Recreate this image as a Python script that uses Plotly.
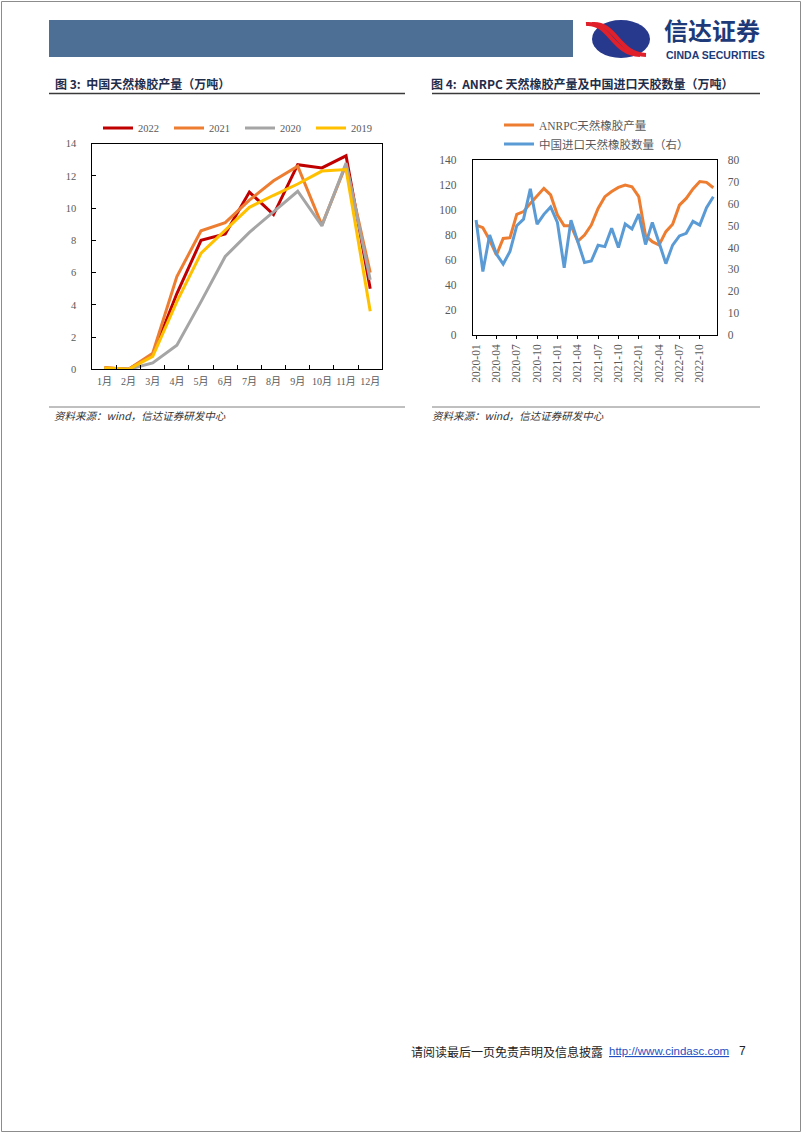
import plotly.graph_objects as go

W, H = 802, 1133

# ---------------- data: chart 3 ----------------
months = ["1月", "2月", "3月", "4月", "5月", "6月", "7月", "8月", "9月", "10月", "11月", "12月"]
y2022 = [0.1, 0.0, 0.9, 4.7, 8.0, 8.4, 11.0, 9.6, 12.7, 12.5, 13.25, 5.0]
y2021 = [0.05, 0.0, 1.0, 5.75, 8.6, 9.1, 10.5, 11.7, 12.6, 8.95, 12.7, 6.0]
y2020 = [0.05, 0.0, 0.4, 1.5, 4.2, 7.0, 8.5, 9.8, 11.05, 8.9, 12.8, 5.55]
y2019 = [0.1, 0.0, 0.8, 4.2, 7.2, 8.6, 10.05, 10.8, 11.5, 12.3, 12.4, 3.6]

# ---------------- data: chart 4 ----------------
dates = [f"{y}-{m:02d}" for y in (2020, 2021, 2022) for m in range(1, 13)]
anrpc = [88, 85.9, 76, 64, 77.3, 77.9, 96.6, 98.8, 105.4, 111.6, 117.5, 112.2,
         96.1, 87.5, 87.5, 75, 80, 88, 101.4, 110.8, 115, 118.2, 120.2, 118.8,
         110.8, 79.5, 74.7, 72, 82.7, 88.6, 104, 109.4, 117, 122.9, 122.3, 118]
imports = [52.6, 29.0, 45.7, 37.0, 32.4, 38.2, 50.0, 53.0, 66.9, 50.7, 55.2, 58.6,
           51.5, 30.7, 52.5, 42.7, 33.1, 33.8, 41.0, 40.4, 48.8, 40.0, 50.8, 48.5,
           55.3, 41.4, 51.5, 42.2, 32.6, 41.1, 45.3, 46.5, 52.0, 50.3, 58.3, 63.3]
tick_dates = dates[::3]

# ---------------- helpers ----------------
def px(x):
    return x / W

def py(y):
    return 1 - y / H

SERIF = "Liberation Serif, 'Times New Roman', 'Noto Sans CJK SC', serif"
CJK = "'Noto Sans CJK SC', sans-serif"
TICKC = "#595959"

fig = go.Figure()

# chart 3 traces
for name, vals, col in [("2022", y2022, "#C00000"), ("2021", y2021, "#ED7D31"),
                        ("2020", y2020, "#A5A5A5"), ("2019", y2019, "#FFC000")]:
    fig.add_trace(go.Scatter(x=months, y=vals, mode="lines", name=name,
                             line=dict(color=col, width=3),
                             xaxis="x", yaxis="y", legend="legend"))

# chart 4 traces
fig.add_trace(go.Scatter(x=dates, y=anrpc, mode="lines", name="ANRPC天然橡胶产量",
                         line=dict(color="#ED7D31", width=3),
                         xaxis="x2", yaxis="y2", legend="legend2"))
fig.add_trace(go.Scatter(x=dates, y=imports, mode="lines", name="中国进口天然橡胶数量（右）",
                         line=dict(color="#5B9BD5", width=3),
                         xaxis="x2", yaxis="y3", legend="legend2"))

base = dict(showgrid=False, zeroline=False, showline=True, linecolor="#000000",
            linewidth=1, mirror=True, automargin=False)

fig.update_layout(
    template="none",
    width=W, height=H, autosize=False,
    margin=dict(l=0, r=0, t=0, b=0, pad=0, autoexpand=False),
    paper_bgcolor="white", plot_bgcolor="white",
    xaxis=dict(domain=[px(92.3), px(382.3)], anchor="y", type="category",
               range=[-0.5, 11.5], tickson="boundaries", ticks="inside", ticklen=4,
               tickangle=0, tickcolor="#000", ticklabelstandoff=3,
               tickfont=dict(family=SERIF, size=10, color=TICKC), **base),
    yaxis=dict(domain=[py(369.3), py(143.7)], anchor="x", range=[0, 14], dtick=2,
               ticks="inside", ticklen=4, tickcolor="#000", ticklabelstandoff=13,
               tickfont=dict(family=SERIF, size=10.5, color=TICKC), **base),
    xaxis2=dict(domain=[px(472.7), px(716.7)], anchor="y2", type="category",
                range=[-0.5, 35.5], tickmode="array", tickvals=tick_dates, ticktext=tick_dates,
                tickangle=-90, ticks="outside", ticklen=3, tickcolor="#000", ticklabelstandoff=1,
                tickfont=dict(family=SERIF, size=11.5, color=TICKC), **base),
    yaxis2=dict(domain=[py(334.7), py(160.3)], anchor="x2", range=[0, 140], dtick=20,
                ticks="", ticklabelstandoff=13,
                tickfont=dict(family=SERIF, size=11.5, color=TICKC), **base),
    yaxis3=dict(overlaying="y2", side="right", anchor="x2", range=[0, 80], dtick=10,
                showgrid=False, zeroline=False, showline=False, automargin=False, ticks="",
                ticklabelstandoff=10,
                tickfont=dict(family=SERIF, size=11.5, color=TICKC)),
    legend=dict(orientation="h", x=px(98), y=py(128), xanchor="left", yanchor="middle",
                font=dict(family=SERIF, size=10.5, color=TICKC), bgcolor="rgba(0,0,0,0)",
                entrywidth=26, entrywidthmode="pixels", tracegroupgap=0),
    legend2=dict(orientation="v", x=px(499), y=py(134.5), xanchor="left", yanchor="middle",
                 font=dict(family=SERIF, size=11.5, color=TICKC), bgcolor="rgba(0,0,0,0)",
                 tracegroupgap=0),
    showlegend=True,
)

shapes = []
# page border
shapes.append(dict(type="rect", xref="paper", yref="paper", x0=px(1.5), x1=px(800.5),
                   y0=py(1131.5), y1=py(1.5), line=dict(color="#8c8c8c", width=1)))
# header bar
shapes.append(dict(type="rect", xref="paper", yref="paper", x0=px(49), x1=px(573),
                   y0=py(57), y1=py(20), fillcolor="#4D6F95", line=dict(width=0)))
# logo sphere
shapes.append(dict(type="circle", xref="paper", yref="paper", x0=px(592), x1=px(650),
                   y0=py(58), y1=py(20), fillcolor="#27398C", line=dict(width=0)))
# logo red ribbons (approximation)
for off in (0, 6):
    shapes.append(dict(type="path", xref="paper", yref="paper",
                       path=f"M {px(586+off)},{py(24)} C {px(610+off)},{py(22)} {px(612+off)},{py(54)} {px(640+off)},{py(55)}",
                       line=dict(color="#E0202A", width=4)))
# title underlines
shapes.append(dict(type="line", xref="paper", yref="paper", x0=px(49), x1=px(405),
                   y0=py(93.5), y1=py(93.5), line=dict(color="#3a3a3a", width=1.5)))
shapes.append(dict(type="line", xref="paper", yref="paper", x0=px(432), x1=px(760),
                   y0=py(93.5), y1=py(93.5), line=dict(color="#3a3a3a", width=1.5)))
# source lines
shapes.append(dict(type="line", xref="paper", yref="paper", x0=px(49), x1=px(405),
                   y0=py(407), y1=py(407), line=dict(color="#808080", width=1)))
shapes.append(dict(type="line", xref="paper", yref="paper", x0=px(432), x1=px(760),
                   y0=py(407), y1=py(407), line=dict(color="#808080", width=1)))
fig.update_layout(shapes=shapes)

ann = []
def text(x, y, t, size=11, color="#000", family=CJK, anchor="left", yanchor="middle", pad=1):
    ann.append(dict(xref="paper", yref="paper", x=px(x), y=py(y), text=t, showarrow=False,
                    xanchor=anchor, yanchor=yanchor, borderpad=pad,
                    font=dict(family=family, size=size, color=color)))

text(663, 48.5, "<b>信达证券</b>", size=24, color="#1E3A78", yanchor="bottom", pad=0)
text(665, 48.5, "<b>CINDA SECURITIES</b>", size=10.5, color="#1E3A78",
     family="Arial, Liberation Sans, sans-serif", yanchor="top", pad=0)
text(53, 83, "<b>图 3:  中国天然橡胶产量（万吨）</b>", size=12, color="#1F2D4A")
text(429, 83, "<b>图 4:  ANRPC 天然橡胶产量及中国进口天胶数量（万吨）</b>", size=12, color="#1F2D4A")
text(52, 415, "<i>资料来源：wind，信达证券研发中心</i>", size=10.5, color="#333")
text(430, 415, "<i>资料来源：wind，信达证券研发中心</i>", size=10.5, color="#333")
text(409, 1051, "请阅读最后一页免责声明及信息披露", size=12, color="#222")
text(607, 1051, "<u>http://www.cindasc.com</u>", size=11.5, color="#1F4FBF", family="Arial, Liberation Sans, sans-serif")
text(737, 1051, "7", size=12, color="#222", family="Arial, Liberation Sans, sans-serif")
fig.update_layout(annotations=ann)

post = ("document.body.style.margin='0';document.body.style.padding='0';"
        "document.documentElement.style.margin='0';document.documentElement.style.overflow='hidden';"
        "document.body.style.overflow='hidden';")
fig.write_html("out.html", post_script=post, config={"displayModeBar": False})
